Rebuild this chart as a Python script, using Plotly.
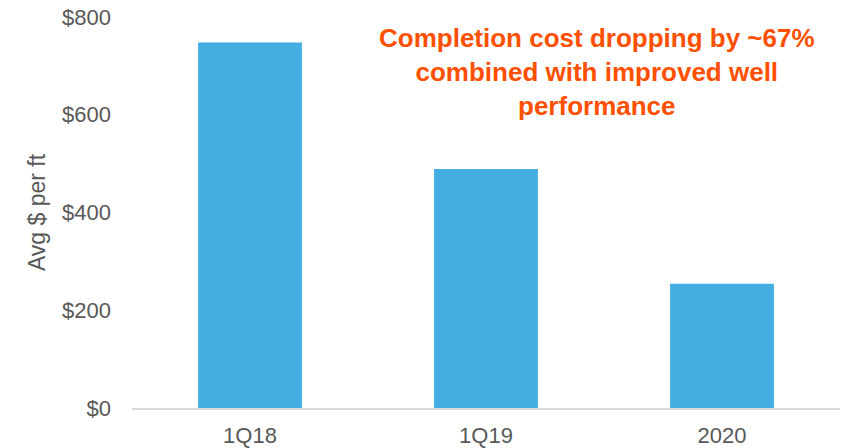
import plotly.graph_objects as go

categories = ["1Q18", "1Q19", "2020"]
values = [748, 489, 254]
y_ticks = [0, 200, 400, 600, 800]
y_tick_labels = ["$0", "$200", "$400", "$600", "$800"]
note_text = "Completion cost dropping by ~67%<br>combined with improved well<br>performance"

fig = go.Figure()
fig.add_trace(go.Bar(x=categories, y=values, marker=dict(color="#45AEE1", line=dict(width=0)),
                     hoverinfo="skip"))

font_family = "Liberation Sans, Arial, sans-serif"
fig.update_layout(
    width=850, height=448,
    margin=dict(l=132, r=10, t=17, b=40),
    plot_bgcolor="white", paper_bgcolor="white",
    bargap=0.56,
    showlegend=False,
    font=dict(family=font_family, size=22, color="#595959"),
    xaxis=dict(showgrid=False, showline=True, linecolor="#D9D9D9", linewidth=2,
               ticks="", tickfont=dict(size=22, color="#595959"), ticklabelstandoff=7,
               automargin=False, ticklabeloverflow="allow"),
    yaxis=dict(range=[0, 800], tickvals=y_ticks, ticktext=y_tick_labels,
               showgrid=False, zeroline=False, showline=False, automargin=False,
               ticklabeloverflow="allow",
               tickfont=dict(size=22, color="#595959"), ticklabelstandoff=20,
               title=dict(text="Avg $ per ft", font=dict(size=23, color="#595959"), standoff=9)),
    annotations=[dict(x=0.657, y=0.859, xref="paper", yref="paper", xanchor="center", yanchor="middle",
                      text=note_text, showarrow=False, align="center",
                      font=dict(family=font_family, size=26, color="#FF5000", weight="bold"))],
)
fig.write_html("out.html", config={"displayModeBar": False},
               post_script="document.body.style.margin='0';document.body.style.overflow='hidden';")
